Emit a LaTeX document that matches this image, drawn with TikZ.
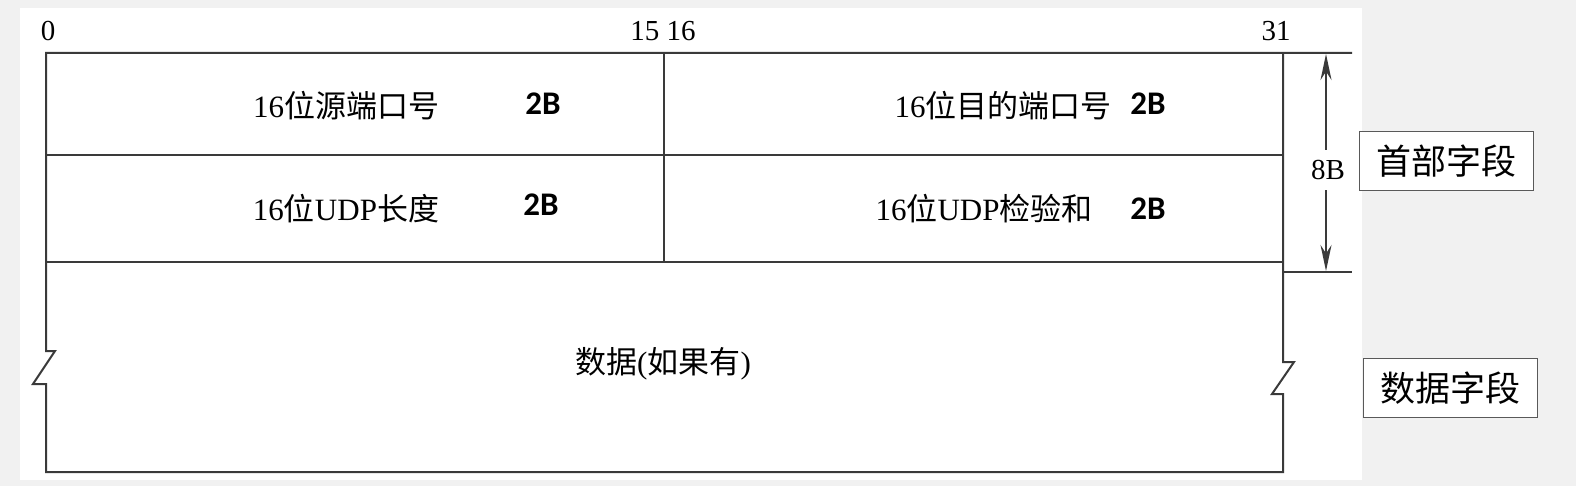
\documentclass[tikz,border=0pt]{standalone}
\usepackage{fontspec}
\setmainfont{Liberation Serif}
\newfontfamily\cjk{Noto Sans CJK SC}
\newfontfamily\bsans{Carlito}
\usetikzlibrary{arrows.meta}
\definecolor{lin}{HTML}{3A3A3A}
\definecolor{bg}{HTML}{F1F1F1}
\begin{document}
\begin{tikzpicture}[x=1pt,y=-1pt,
  frame/.style={draw=lin,line width=2pt,line join=miter},
  fieldtxt/.style={inner sep=0pt,font=\fontsize{31}{36}\selectfont},
  bytetxt/.style={inner sep=0pt,font=\bsans\bfseries\fontsize{33}{38}\selectfont},
  bitnum/.style={inner sep=0pt,font=\fontsize{29}{34}\selectfont},
  seclabel/.style={draw=gray!70!black,line width=1pt,minimum width=174pt,minimum height=59pt,inner sep=0pt,fill=white,font=\cjk\fontsize{35}{40}\selectfont}]
\fill[bg] (0,0) rectangle (1576,486);
\fill[white] (20,8) rectangle (1362,480);
\useasboundingbox (0,0) rectangle (1576,486);
% frame
\draw[frame] (1352,53) -- (46,53) -- (46,351) -- (55,351) -- (33,384) -- (46,384) -- (46,472)
  -- (1283,472) -- (1283,394) -- (1272,394) -- (1294,362) -- (1283,362) -- (1283,53);
\draw[frame] (46,155) -- (1283,155);
\draw[frame] (46,262) -- (1283,262);
\draw[frame] (664,53) -- (664,262);
\draw[frame] (1283,272) -- (1352,272);
% bit numbers
\node[bitnum] (b0) at (48,31) {0};
\node[bitnum] (b1516) at (663,31) {15 16};
\node[bitnum] (b31) at (1276,31) {31};
% fields
\node[fieldtxt] (srcp) at (346,106) {16{\cjk 位源端口号}};
\node[bytetxt] (srcb) at (543,104) {2B};
\node[fieldtxt] (dstp) at (1003,106) {16{\cjk 位目的端口号}};
\node[bytetxt] (dstb) at (1148,104) {2B};
\node[fieldtxt] (ulen) at (346,209) {16{\cjk 位}UDP{\cjk 长度}};
\node[bytetxt] (lenb) at (541,205) {2B};
\node[fieldtxt] (csum) at (984,209) {16{\cjk 位}UDP{\cjk 检验和}};
\node[bytetxt] (csb) at (1148,209) {2B};
\node[fieldtxt] (data) at (663,364) {{\cjk 数据}({\cjk 如果有})};
% dimension arrow
\coordinate (atop) at (1326,54);
\coordinate (abot) at (1326,271);
\draw[lin,line width=1.8pt,{Stealth[length=26pt,width=11pt]}-{Stealth[length=26pt,width=11pt]}] (atop) -- (abot);
\node[bitnum,fill=white,inner ysep=10pt,inner xsep=2pt] (eightb) at (1328,170) {8B};
% section labels
\node[seclabel] (hdr) at (1446,161) {首部字段};
\node[seclabel] (dat) at (1450,388) {数据字段};
\end{tikzpicture}
\end{document}
